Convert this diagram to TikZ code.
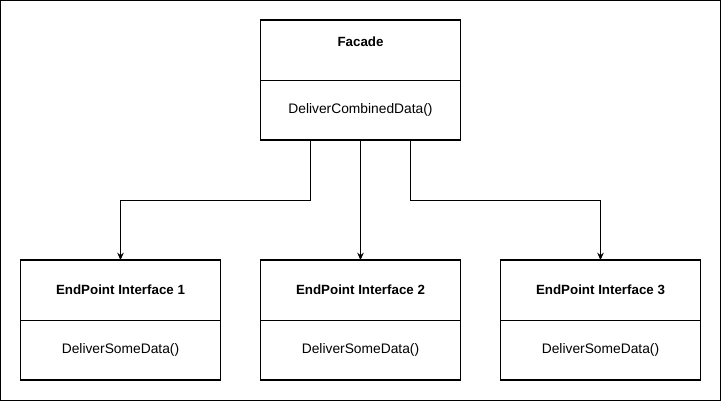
\documentclass[tikz,border=0pt]{standalone}
\usepackage{fontspec}
\setmainfont{Liberation Sans}
\usetikzlibrary{arrows.meta}
\tikzset{
  kelas/.style={draw, line width=1.1pt, minimum width=150pt, minimum height=90pt, inner sep=0pt, outer sep=0pt},
  judul/.style={font=\bfseries},
  metode/.style={},
  panah/.style={-{Stealth[length=5.5pt,width=5pt]}, line width=0.75pt}
}
\begin{document}
\begin{tikzpicture}[x=0.75pt, y=-0.75pt, font=\fontsize{10.35}{12}\selectfont]
    \useasboundingbox (0,0) rectangle (721,401);
    % Bingkai
    \draw[line width=1.1pt] (0.75,0.75) rectangle (720.25,400.25);
    % Facade
    \node[kelas] (facade) at (360.5,80) {};
    \draw[line width=0.75pt] (facade.west) -- (facade.east);
    \node[judul] (facadejudul) at (360.5,41.5) {Facade};
    \node[metode] (facademetode) at (360.5,110) {DeliverCombinedData()};
    % EndPoint
    \foreach \i/\x in {1/120.5, 2/360.5, 3/600.5} {
        \node[kelas] (ep\i) at (\x,320) {};
        \draw[line width=0.75pt] (ep\i.west) -- (ep\i.east);
        \node[judul] (ep\i judul) at (\x,290) {EndPoint Interface \i};
        \node[metode] (ep\i metode) at (\x,350) {DeliverSomeData()};
    }
    % Panah
    \draw[panah] ([xshift=-37.5pt]facade.south) -- ++(0,60) -| (ep1.north);
    \draw[panah] (facade.south) -- (ep2.north);
    \draw[panah] ([xshift=37.5pt]facade.south) -- ++(0,60) -| (ep3.north);
\end{tikzpicture}
\end{document}
